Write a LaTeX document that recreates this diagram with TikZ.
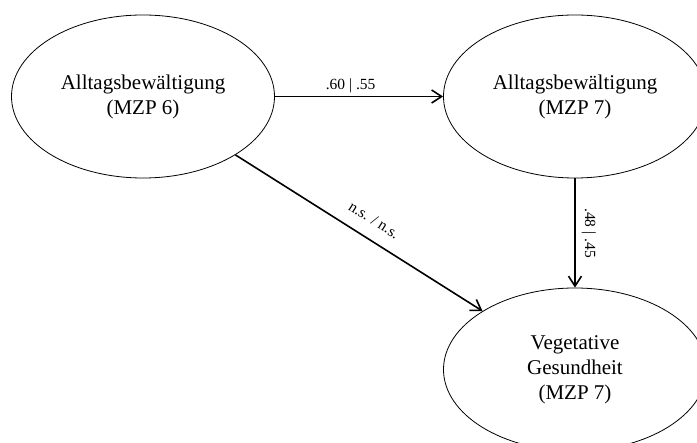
\documentclass[tikz,border=0pt]{standalone}
\usepackage{fontspec}
\setmainfont{Liberation Serif}
\usetikzlibrary{shapes.geometric,arrows.meta}

\tikzset{
  konstrukt/.style={ellipse, draw, line width=0.8pt, minimum width=263pt,
    minimum height=163pt, inner sep=0pt, align=center,
    font=\fontsize{21}{25}\selectfont},
  pfad/.style={line width=1.6pt, -{Straight Barb[length=10pt,width=13pt]}},
  koeff/.style={font=\fontsize{15.5}{18}\selectfont}
}

\begin{document}
\begin{tikzpicture}[x=1pt,y=-1pt]
   \useasboundingbox (0,0) rectangle (697,443);
   % latente Variablen
   \node[konstrukt] (ab6) at (143,96.5) {Alltagsbewältigung\\(MZP 6)};
   \node[konstrukt] (ab7) at (575,96.5) {Alltagsbewältigung\\(MZP 7)};
   \node[konstrukt] (vg7) at (575,369.5) {Vegetative\\Gesundheit\\(MZP 7)};
   % Pfade
   \draw[pfad] (ab6) -- node[koeff, above, pos=0.45, inner sep=3pt]{.60 | .55} (ab7);
   \draw[pfad] (ab7) -- node[koeff, rotate=-90, anchor=south, inner sep=6pt]{.48 | .45} (vg7);
   \draw[pfad] (ab6) -- node[koeff, sloped, above=11pt, pos=0.52, inner sep=2pt]{n.s. / n.s.} (vg7);
\end{tikzpicture}
\end{document}
